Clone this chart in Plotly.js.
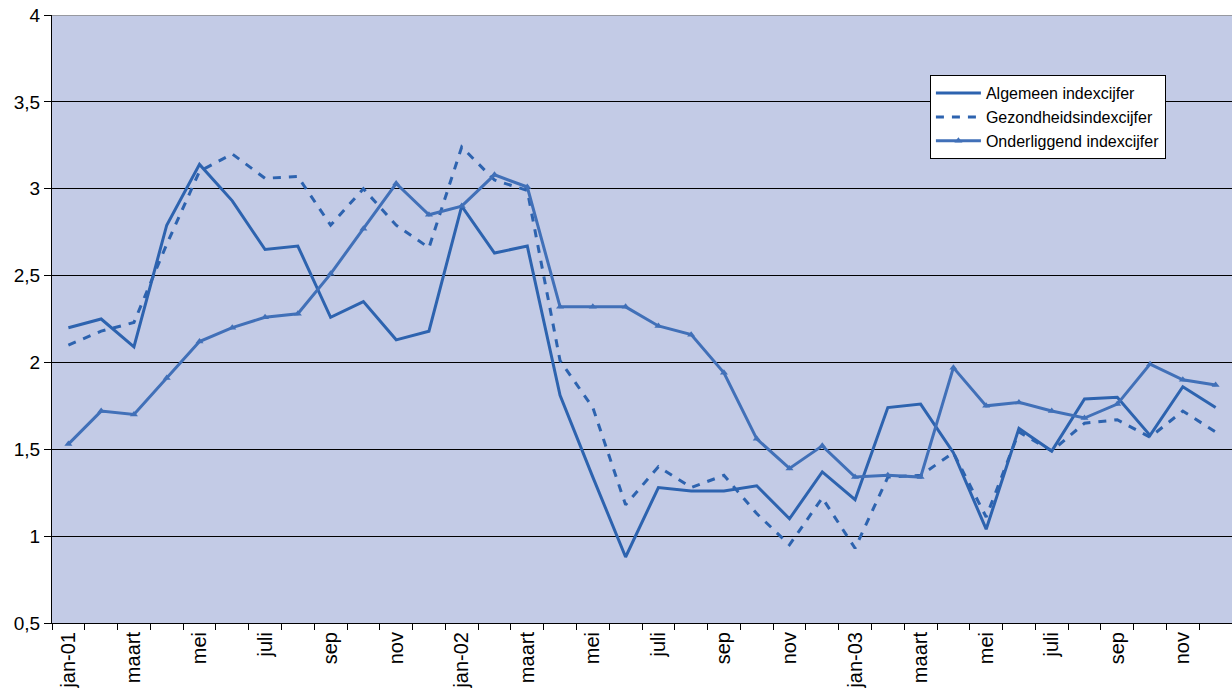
<!DOCTYPE html>
<html>
<head>
<meta charset="utf-8">
<script src="https://cdn.plot.ly/plotly-3.0.1.min.js"></script>
<style>html,body{margin:0;padding:0;background:#fff;}#chart{width:1232px;height:693px;}</style>
</head>
<body>
<div id="chart"></div>
<script>
const months = ['jan-01','feb','maart','apr','mei','jun','juli','aug','sep','okt','nov','dec',
                'jan-02','feb','maart','apr','mei','jun','juli','aug','sep','okt','nov','dec',
                'jan-03','feb','maart','apr','mei','jun','juli','aug','sep','okt','nov','dec'];
const algemeen = [2.20,2.25,2.09,2.79,3.14,2.93,2.65,2.67,2.26,2.35,2.13,2.18,
                  2.90,2.63,2.67,1.81,1.34,0.88,1.28,1.26,1.26,1.29,1.10,1.37,
                  1.21,1.74,1.76,1.48,1.04,1.62,1.49,1.79,1.80,1.58,1.86,1.74];
const gezondheid = [2.10,2.18,2.23,2.68,3.10,3.20,3.06,3.07,2.79,3.00,2.79,2.66,
                    3.24,3.05,2.99,2.01,1.74,1.18,1.40,1.28,1.35,1.13,0.95,1.22,
                    0.93,1.34,1.35,1.48,1.11,1.60,1.49,1.65,1.67,1.57,1.72,1.60];
const onderliggend = [1.53,1.72,1.70,1.91,2.12,2.20,2.26,2.28,2.51,2.77,3.03,2.85,
                      2.90,3.08,3.01,2.32,2.32,2.32,2.21,2.16,1.94,1.56,1.39,1.52,
                      1.34,1.35,1.34,1.97,1.75,1.77,1.72,1.68,1.76,1.99,1.90,1.87];
const seriesNames = ['Algemeen indexcijfer','Gezondheidsindexcijfer','Onderliggend indexcijfer'];

const xIdx = months.map((m, i) => i);
const labelVals = xIdx.filter(i => i % 2 === 0);
const labelText = labelVals.map(i => months[i]);

const traces = [
  {x: xIdx, y: algemeen, name: seriesNames[0], type: 'scatter', mode: 'lines',
   line: {color: '#2D63AF', width: 3}},
  {x: xIdx, y: gezondheid, name: seriesNames[1], type: 'scatter', mode: 'lines',
   line: {color: '#2D63AF', width: 3, dash: '8px,8px'}},
  {x: xIdx, y: onderliggend, name: seriesNames[2], type: 'scatter', mode: 'lines+markers',
   line: {color: '#4170B8', width: 3},
   marker: {symbol: 'triangle-up', size: 7, color: '#4170B8'}}
];

const layout = {
  width: 1232, height: 693,
  margin: {l: 52, r: 0, t: 15, b: 70},
  paper_bgcolor: '#ffffff',
  plot_bgcolor: '#C3CBE6',
  separators: ',.',
  font: {family: '"Liberation Sans", Arial, sans-serif', color: '#000', size: 18},
  showlegend: true,
  legend: {x: 0.744, y: 0.901, xanchor: 'left', yanchor: 'top',
           bgcolor: '#ffffff', bordercolor: '#000', borderwidth: 1,
           itemwidth: 45,
           font: {size: 16, color: '#000'}, tracegroupgap: 0},
  xaxis: {
    range: [-0.5, 35.5], showgrid: false, zeroline: false,
    showline: true, linecolor: '#000', linewidth: 1,
    tickmode: 'array', tickvals: labelVals, ticktext: labelText,
    ticks: '', tickangle: -90, tickfont: {size: 20},
    minor: {tickmode: 'linear', tick0: -0.5, dtick: 1, ticks: 'outside', ticklen: 6,
            tickcolor: '#000', tickwidth: 1, showgrid: false}
  },
  yaxis: {
    range: [0.5, 4], dtick: 0.5, tick0: 0.5, showgrid: true, gridcolor: '#000', gridwidth: 1,
    zeroline: false, showline: true, linecolor: '#000', linewidth: 1,
    ticks: 'outside', ticklen: 7, tickcolor: '#000', tickfont: {size: 19}
  },
  shapes: [
    {type: 'line', xref: 'paper', yref: 'y', x0: 0, x1: 1, y0: 4, y1: 4,
     line: {color: '#888888', width: 1.5}}
  ]
};

Plotly.newPlot('chart', traces, layout, {displayModeBar: false, staticPlot: true});
</script>
</body>
</html>
